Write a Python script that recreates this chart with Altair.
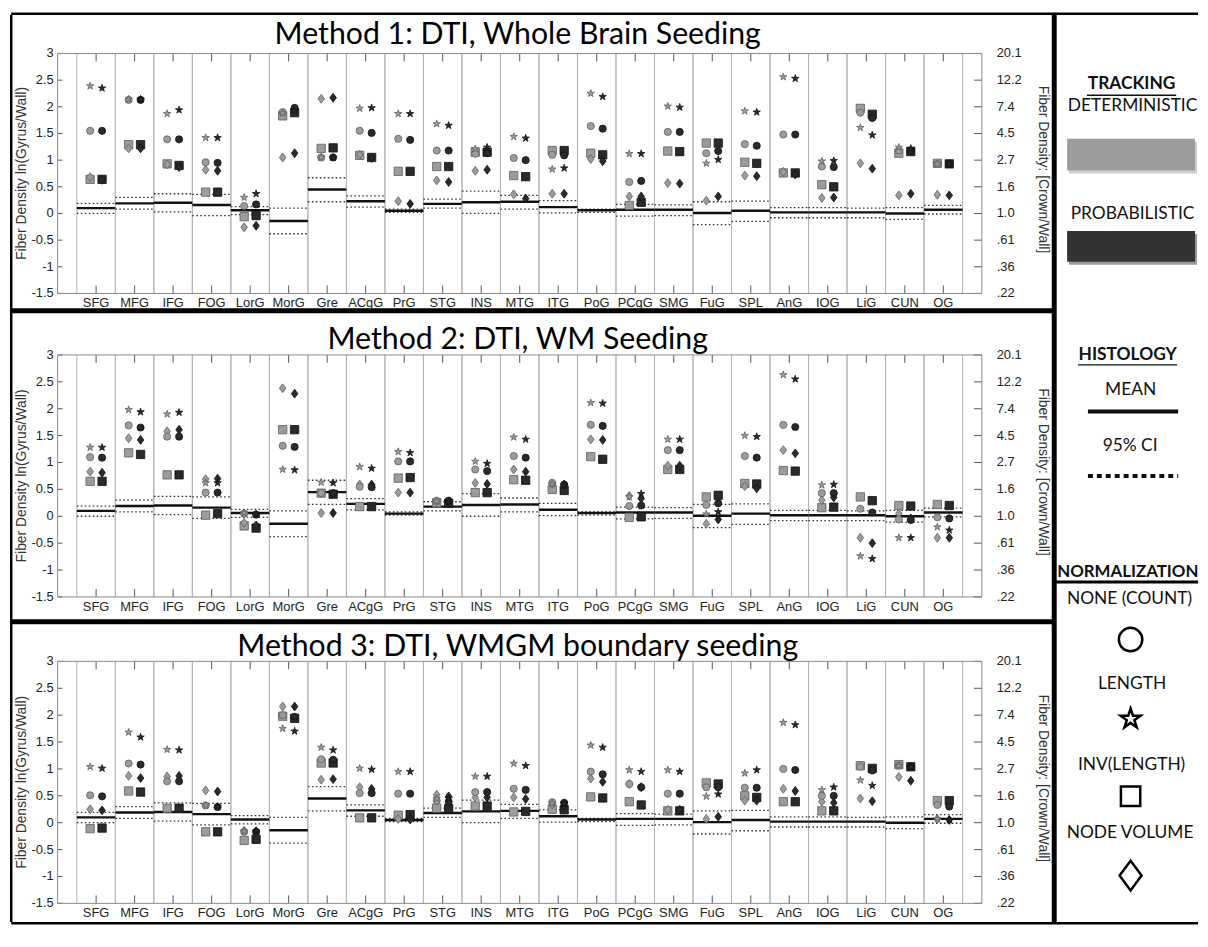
import altair as alt
import pandas as pd

gyri = ["SFG", "MFG", "IFG", "FOG", "LorG", "MorG", "Gre", "ACgG", "PrG", "STG", "INS", "MTG",
        "ITG", "PoG", "PCgG", "SMG", "FuG", "SPL", "AnG", "IOG", "LiG", "CUN", "OG"]

hist_mean = [0.10, 0.19, 0.20, 0.16, 0.06, -0.14, 0.45, 0.23, 0.05, 0.18, 0.21, 0.22,
             0.12, 0.06, 0.07, 0.07, 0.01, 0.05, 0.02, 0.02, 0.02, 0.00, 0.07]
hist_lo = [0.00, 0.08, 0.03, -0.04, -0.02, -0.38, 0.22, 0.12, 0.02, 0.10, 0.00, 0.08,
           0.01, 0.02, -0.05, -0.04, -0.21, -0.15, -0.08, -0.08, -0.08, -0.11, -0.01]
hist_hi = [0.19, 0.30, 0.37, 0.36, 0.13, 0.10, 0.67, 0.33, 0.08, 0.27, 0.42, 0.34,
           0.24, 0.08, 0.17, 0.16, 0.22, 0.23, 0.11, 0.11, 0.10, 0.11, 0.15]

# Method 1: DTI, whole brain seeding
m1_det_count = [1.55, 2.13, 1.39, 0.96, 0.14, 1.90, 1.05, 1.55, 1.40, 1.18, 1.12, 1.04, 1.10, 1.64, 0.59, 1.53, 1.13, 1.30, 1.48, 0.88, 1.89, 1.18, 0.93]
m1_prob_count = [1.55, 2.13, 1.39, 0.95, 0.17, 1.98, 1.05, 1.51, 1.38, 1.18, 1.13, 1.00, 1.09, 1.59, 0.61, 1.53, 1.17, 1.27, 1.48, 0.87, 1.79, 1.18, 0.93]
m1_det_length = [2.39, 2.14, 1.87, 1.42, 0.30, 1.88, 1.05, 1.97, 1.87, 1.68, 1.21, 1.44, 0.83, 2.25, 1.12, 2.01, 0.94, 1.92, 2.56, 0.98, 1.61, 1.24, 0.93]
m1_prob_length = [2.35, 2.14, 1.94, 1.42, 0.37, 1.93, 1.05, 1.98, 1.87, 1.65, 1.24, 1.41, 0.85, 2.19, 1.12, 1.99, 1.01, 1.90, 2.53, 0.99, 1.47, 1.22, 0.93]
m1_det_inv = [0.64, 1.29, 0.93, 0.40, -0.06, 1.83, 1.22, 1.09, 0.79, 0.88, 1.15, 0.71, 1.18, 1.13, 0.15, 1.17, 1.32, 0.96, 0.76, 0.54, 1.97, 1.13, 0.94]
m1_prob_inv = [0.64, 1.29, 0.90, 0.40, -0.04, 1.89, 1.23, 1.05, 0.79, 0.88, 1.15, 0.69, 1.18, 1.10, 0.21, 1.16, 1.32, 0.94, 0.76, 0.50, 1.86, 1.16, 0.93]
m1_det_vol = [0.68, 1.22, 0.92, 0.82, -0.26, 1.05, 2.15, 1.10, 0.23, 0.62, 0.80, 0.36, 0.37, 1.02, 0.32, 0.57, 0.24, 0.71, 0.78, 0.29, 0.94, 0.34, 0.35]
m1_prob_vol = [0.63, 1.22, 0.87, 0.80, -0.23, 1.13, 2.17, 1.04, 0.18, 0.59, 0.82, 0.28, 0.37, 0.98, 0.32, 0.56, 0.32, 0.70, 0.73, 0.30, 0.84, 0.37, 0.34]

# Method 2: DTI, WM seeding
m2_det_count = [1.10, 1.69, 1.48, 0.44, 0.05, 1.31, 0.43, 0.55, 1.02, 0.29, 0.87, 1.12, 0.62, 1.70, 0.19, 1.23, 0.21, 1.12, 1.70, 0.43, 0.14, -0.06, -0.02]
m2_prob_count = [1.09, 1.65, 1.48, 0.44, 0.03, 1.29, 0.43, 0.54, 1.02, 0.29, 0.84, 1.09, 0.59, 1.68, 0.20, 1.23, 0.24, 1.09, 1.66, 0.43, 0.07, -0.07, -0.04]
m2_det_length = [1.28, 1.98, 1.90, 0.62, 0.06, 0.87, 0.63, 0.92, 1.20, 0.28, 1.02, 1.47, 0.60, 2.11, 0.36, 1.43, 0.04, 1.50, 2.63, 0.58, -0.74, -0.40, -0.20]
m2_prob_length = [1.28, 1.94, 1.93, 0.62, 0.04, 0.86, 0.62, 0.89, 1.18, 0.28, 0.98, 1.43, 0.58, 2.10, 0.42, 1.43, 0.08, 1.48, 2.55, 0.59, -0.79, -0.40, -0.26]
m2_det_inv = [0.65, 1.18, 0.77, 0.02, -0.18, 1.61, 0.43, 0.18, 0.71, 0.25, 0.44, 0.68, 0.50, 1.11, -0.02, 0.87, 0.36, 0.61, 0.85, 0.16, 0.36, 0.20, 0.22]
m2_prob_inv = [0.65, 1.15, 0.77, 0.05, -0.22, 1.61, 0.41, 0.18, 0.72, 0.24, 0.44, 0.67, 0.48, 1.06, -0.01, 0.87, 0.39, 0.60, 0.84, 0.17, 0.29, 0.19, 0.20]
m2_det_vol = [0.83, 1.45, 1.58, 0.69, -0.12, 2.38, 0.06, 0.59, 0.44, 0.26, 0.62, 0.87, 0.61, 1.43, 0.38, 0.94, -0.14, 0.56, 1.23, 0.30, -0.40, 0.05, -0.40]
m2_prob_vol = [0.81, 1.42, 1.61, 0.70, -0.17, 2.28, 0.06, 0.59, 0.44, 0.26, 0.60, 0.83, 0.59, 1.42, 0.33, 0.94, -0.06, 0.52, 1.17, 0.35, -0.50, -0.04, -0.40]

# Method 3: DTI, WMGM boundary seeding
m3_det_count = [0.51, 1.10, 0.77, 0.32, -0.17, 2.00, 1.18, 0.55, 0.54, 0.41, 0.57, 0.63, 0.38, 0.95, 0.72, 0.54, 0.66, 0.65, 1.00, 0.50, 1.04, 1.06, 0.33]
m3_prob_count = [0.49, 1.08, 0.77, 0.29, -0.17, 1.97, 1.17, 0.55, 0.54, 0.39, 0.57, 0.61, 0.37, 0.90, 0.66, 0.54, 0.66, 0.65, 0.98, 0.50, 0.97, 1.04, 0.30]
m3_det_length = [1.04, 1.68, 1.36, 0.32, -0.16, 1.75, 1.40, 1.01, 0.95, 0.45, 0.86, 1.10, 0.36, 1.44, 0.98, 0.98, 0.49, 0.92, 1.86, 0.61, 0.79, 1.06, 0.07]
m3_prob_length = [1.01, 1.59, 1.35, 0.30, -0.16, 1.70, 1.35, 0.99, 0.95, 0.45, 0.86, 1.06, 0.36, 1.40, 0.95, 0.95, 0.53, 0.98, 1.82, 0.66, 0.69, 1.04, 0.05]
m3_det_inv = [-0.11, 0.59, 0.27, -0.17, -0.33, 1.98, 1.11, 0.09, 0.14, 0.27, 0.31, 0.20, 0.25, 0.48, 0.39, 0.22, 0.74, 0.50, 0.39, 0.22, 1.06, 1.08, 0.41]
m3_prob_inv = [-0.10, 0.57, 0.27, -0.17, -0.31, 1.94, 1.11, 0.09, 0.15, 0.26, 0.31, 0.21, 0.24, 0.46, 0.33, 0.22, 0.72, 0.47, 0.39, 0.22, 1.01, 1.04, 0.41]
m3_det_vol = [0.25, 0.87, 0.86, 0.60, -0.15, 2.16, 0.80, 0.66, 0.07, 0.52, 0.47, 0.47, 0.34, 0.82, 0.72, 0.24, 0.07, 0.41, 0.63, 0.39, 0.45, 0.85, 0.07]
m3_prob_vol = [0.23, 0.83, 0.87, 0.58, -0.16, 2.16, 0.81, 0.63, 0.06, 0.49, 0.47, 0.44, 0.32, 0.76, 0.66, 0.24, 0.11, 0.41, 0.59, 0.37, 0.40, 0.78, 0.05]

titles = ["Method 1: DTI, Whole Brain Seeding",
          "Method 2: DTI, WM Seeding",
          "Method 3: DTI, WMGM boundary seeding"]

tracking = ["det", "prob"]
tracking_labels = ["DETERMINISTIC", "PROBABILISTIC"]
norms = ["count", "length", "inv", "vol"]
norm_labels = ["NONE (COUNT)", "LENGTH", "INV(LENGTH)", "NODE VOLUME"]
draw_order = ["inv", "vol", "count", "length"]

y_ticks = [3, 2.5, 2, 1.5, 1, 0.5, 0, -0.5, -1, -1.5]
left_labels = ["3", "2.5", "2", "1.5", "1", "0.5", "0", "-0.5", "-1", "-1.5"]
right_labels = ["20.1", "12.2", "7.4", "4.5", "2.7", "1.6", "1.0", ".61", ".36", ".22"]
left_title = "Fiber Density ln(Gyrus/Wall)"
right_title = "Fiber Density: [Crown/Wall]"

# ---------------- styling / layout ----------------
STAR = ("M0,-1L0.2245,-0.309L0.951,-0.309L0.363,0.118L0.588,0.809L0,0.382"
        "L-0.588,0.809L-0.363,0.118L-0.951,-0.309L-0.2245,-0.309Z")
DIAMOND = "M0,-1L0.74,0L0,1L-0.74,0Z"
shape_range = ["circle", STAR, "square", DIAMOND]
size_range = [52, 80, 38, 85]
fill_range = ["#9c9c9c", "#2a2a2a"]
stroke_range = ["#5e5e5e", "#111111"]
TRACK_SHIFT = 0.155
FONT = "Liberation Sans"
TFONT = "Lato"

W, VH = 932, 857                       # single view: all three plot areas stacked
panel_top = [0, 304, 613]
panel_bot = [242, 548, 857]
title_y = [-10, 298.5, 607.7]
LEFT, RIGHT_SEP, LX2 = -46.75, 1005, 1150
TOP, BOTTOM = -40, 877
SEPS = [259.5, 573]

one = pd.DataFrame({"k": [0]})
gyri_df = pd.DataFrame({"gyrus": gyri, "idx": list(range(1, len(gyri) + 1)),
                        "mean": hist_mean, "lo": hist_lo, "hi": hist_hi})
tick_df = pd.DataFrame({"v": y_ticks, "llab": left_labels, "rlab": right_labels})

methods = [
    {("det", "count"): m1_det_count, ("prob", "count"): m1_prob_count,
     ("det", "length"): m1_det_length, ("prob", "length"): m1_prob_length,
     ("det", "inv"): m1_det_inv, ("prob", "inv"): m1_prob_inv,
     ("det", "vol"): m1_det_vol, ("prob", "vol"): m1_prob_vol},
    {("det", "count"): m2_det_count, ("prob", "count"): m2_prob_count,
     ("det", "length"): m2_det_length, ("prob", "length"): m2_prob_length,
     ("det", "inv"): m2_det_inv, ("prob", "inv"): m2_prob_inv,
     ("det", "vol"): m2_det_vol, ("prob", "vol"): m2_prob_vol},
    {("det", "count"): m3_det_count, ("prob", "count"): m3_prob_count,
     ("det", "length"): m3_det_length, ("prob", "length"): m3_prob_length,
     ("det", "inv"): m3_det_inv, ("prob", "inv"): m3_prob_inv,
     ("det", "vol"): m3_det_vol, ("prob", "vol"): m3_prob_vol},
]

xs = alt.Scale(domain=[0, len(gyri) + 1], nice=False, zero=False)


def ltext(s, x, y, bold=False, size=17.5, align="center", font=TFONT, color="#111111", angle=0):
    mk = dict(font=font, fontSize=size, fontWeight="bold" if bold else "normal",
              align=align, baseline="middle", color=color)
    if angle:
        mk["angle"] = angle
    return alt.Chart(one).mark_text(**mk).encode(x=alt.value(x), y=alt.value(y), text=alt.value(s))


def lrule(x1, x2, y1, y2, **kw):
    return alt.Chart(one).mark_rule(**kw).encode(
        x=alt.value(x1), x2=alt.value(x2), y=alt.value(y1), y2=alt.value(y2))


def lrect(x1, x2, y1, y2, **kw):
    return alt.Chart(one).mark_rect(**kw).encode(
        x=alt.value(x1), x2=alt.value(x2), y=alt.value(y1), y2=alt.value(y2))


def lsym(shape, x, y, size):
    return alt.Chart(one).mark_point(shape=shape, filled=False, stroke="black", strokeWidth=2.5,
                                     size=size, opacity=1).encode(x=alt.value(x), y=alt.value(y))


def panel_layers(k):
    arrs = methods[k]
    top, bot = panel_top[k], panel_bot[k]
    ys = alt.Scale(domain=[-1.5, 3], range=[bot, top], nice=False, zero=False)
    rows = []
    for nk in draw_order:
        for tr in tracking:
            for i, (gy, v) in enumerate(zip(gyri, arrs[(tr, nk)])):
                rows.append({"gyrus": gy, "idx": i + 1, "track": tr, "norm": nk, "value": v})
    pts = pd.DataFrame(rows)

    base = alt.Chart(gyri_df).transform_calculate(
        left_edge="datum.idx - 0.5", right_edge="datum.idx + 0.5")
    edge_l = base.mark_rule(color="#b3b3b3", strokeWidth=1).encode(
        x=alt.X("left_edge:Q", scale=xs, axis=None), y=alt.value(top), y2=alt.value(bot))
    edge_r = base.mark_rule(color="#b3b3b3", strokeWidth=1).encode(
        x=alt.X("right_edge:Q", scale=xs, axis=None), y=alt.value(top), y2=alt.value(bot))

    def hline(field, **kw):
        return base.mark_rule(**kw).encode(
            x=alt.X("left_edge:Q", scale=xs, axis=None),
            x2=alt.X2("right_edge:Q"),
            y=alt.Y(f"{field}:Q", scale=ys, axis=None))

    ci_lo = hline("lo", color="#333333", strokeWidth=1.3, strokeDash=[1.6, 2.4])
    ci_hi = hline("hi", color="#333333", strokeWidth=1.3, strokeDash=[1.6, 2.4])
    mean = hline("mean", color="#111111", strokeWidth=2.4)

    points = alt.Chart(pts).transform_calculate(
        xpos=f"datum.idx + (datum.track == '{tracking[0]}' ? {-TRACK_SHIFT} : {TRACK_SHIFT})"
    ).mark_point(filled=True, opacity=1, strokeWidth=0.8).encode(
        x=alt.X("xpos:Q", scale=xs, axis=None),
        y=alt.Y("value:Q", scale=ys, axis=None),
        shape=alt.Shape("norm:N", scale=alt.Scale(domain=norms, range=shape_range), legend=None),
        size=alt.Size("norm:N", scale=alt.Scale(domain=norms, range=size_range), legend=None),
        fill=alt.Fill("track:N", scale=alt.Scale(domain=tracking, range=fill_range), legend=None),
        stroke=alt.Stroke("track:N", scale=alt.Scale(domain=tracking, range=stroke_range), legend=None),
    )

    top_ticks = base.mark_rule(color="#555555", strokeWidth=1).encode(
        x=alt.X("idx:Q", scale=xs, axis=None), y=alt.value(top), y2=alt.value(top + 8))
    bot_ticks = base.mark_rule(color="#555555", strokeWidth=1).encode(
        x=alt.X("idx:Q", scale=xs, axis=None), y=alt.value(bot - 8), y2=alt.value(bot))
    x_labels = base.mark_text(font=FONT, fontSize=13, color="#222222", baseline="middle").encode(
        x=alt.X("idx:Q", scale=xs, axis=None), y=alt.value(bot + 10), text="gyrus:N")

    tk = alt.Chart(tick_df)
    left_ticks = tk.mark_rule(color="#555555", strokeWidth=1).encode(
        x=alt.value(0), x2=alt.value(5), y=alt.Y("v:Q", scale=ys, axis=None))
    right_ticks = tk.mark_rule(color="#555555", strokeWidth=1).encode(
        x=alt.value(W - 8), x2=alt.value(W), y=alt.Y("v:Q", scale=ys, axis=None))
    left_labs = tk.mark_text(font=FONT, fontSize=13, color="#222222", align="right",
                             baseline="middle").encode(
        x=alt.value(-4), y=alt.Y("v:Q", scale=ys, axis=None), text="llab:N")
    right_labs = tk.mark_text(font=FONT, fontSize=13, color="#222222", align="left",
                              baseline="middle").encode(
        x=alt.value(W + 15), y=alt.Y("v:Q", scale=ys, axis=None), text="rlab:N")
    ltitle = ltext(left_title, -36, (top + bot) / 2, size=14, font=FONT, color="#333333", angle=270)
    rtitle = ltext(right_title, W + 62, (top + bot) / 2 - 4, size=14, font=FONT, color="#333333",
                   angle=90)

    box = lrect(0, W, top, bot, fillOpacity=0, stroke="#8a8a8a", strokeWidth=1)
    ttl = alt.Chart(one).mark_text(font=TFONT, fontSize=30.5, color="black", align="center",
                                   baseline="alphabetic").encode(
        x=alt.value(W / 2 - 2), y=alt.value(title_y[k]), text=alt.value(titles[k]))

    return [edge_l, edge_r, ci_lo, ci_hi, mean, points, top_ticks, bot_ticks, x_labels,
            left_ticks, right_ticks, left_labs, right_labs, ltitle, rtitle, box, ttl]


# outer frame and separators (vertical rules kept inside the horizontal ones)
frame_layers = [
    lrule(LEFT, LX2, TOP, TOP, color="black", strokeWidth=2.5),
    lrule(LEFT, LX2, BOTTOM, BOTTOM, color="black", strokeWidth=2.5),
    lrule(LEFT, LEFT, TOP + 1.25, BOTTOM - 1.25, color="black", strokeWidth=2.5),
    lrule(RIGHT_SEP, RIGHT_SEP, TOP + 1.25, BOTTOM - 1.25, color="black", strokeWidth=5),
    lrule(LEFT, RIGHT_SEP, SEPS[0], SEPS[0], color="black", strokeWidth=5),
    lrule(LEFT, RIGHT_SEP, SEPS[1], SEPS[1], color="black", strokeWidth=5),
]

legend_layers = [
    ltext("TRACKING", 1083, 31, bold=True),
    lrule(1038, 1128, 42, 42, color="#111111", strokeWidth=1.5),
    ltext(tracking_labels[0], 1084, 53),
    lrect(1020, 1149, 89, 121, color="#d0d0d0"),
    lrect(1018, 1147, 86, 118, color=fill_range[0]),
    ltext(tracking_labels[1], 1084, 162),
    lrect(1020, 1149, 182, 213, color="#9a9a9a"),
    lrect(1018, 1147, 179, 210, color="#333333"),
    ltext("HISTOLOGY", 1079, 304, bold=True),
    lrule(1029, 1129, 314, 314, color="#111111", strokeWidth=1.5),
    ltext("MEAN", 1082, 339),
    lrule(1039, 1130, 361, 361, color="#111111", strokeWidth=4),
    ltext("95% CI", 1081.5, 396),
    lrule(1039, 1130, 426, 426, color="#111111", strokeWidth=4, strokeDash=[5, 4]),
    ltext("NORMALIZATION", 1008, 523, bold=True, size=17, align="left"),
    lrule(RIGHT_SEP, LX2, 533, 533, color="black", strokeWidth=3),
    ltext(norm_labels[0], 1081, 550),
    lsym(shape_range[0], 1082, 591, 560),
    ltext(norm_labels[1], 1083.5, 636),
    lsym(shape_range[1], 1082, 671, 440),
    ltext(norm_labels[2], 1083, 718),
    lsym(shape_range[2], 1082, 749, 380),
    ltext(norm_labels[3], 1081.5, 786),
    lsym(shape_range[3], 1082, 829, 900),
]

layers = frame_layers + panel_layers(0) + panel_layers(1) + panel_layers(2) + legend_layers

chart = alt.layer(*layers).resolve_scale(y="independent").properties(
    width=W, height=VH, padding={"left": 0, "top": 0, "right": 0, "bottom": 0}
).configure_view(stroke="transparent")

chart.save("out.html", embed_options={"renderer": "svg", "actions": False})
